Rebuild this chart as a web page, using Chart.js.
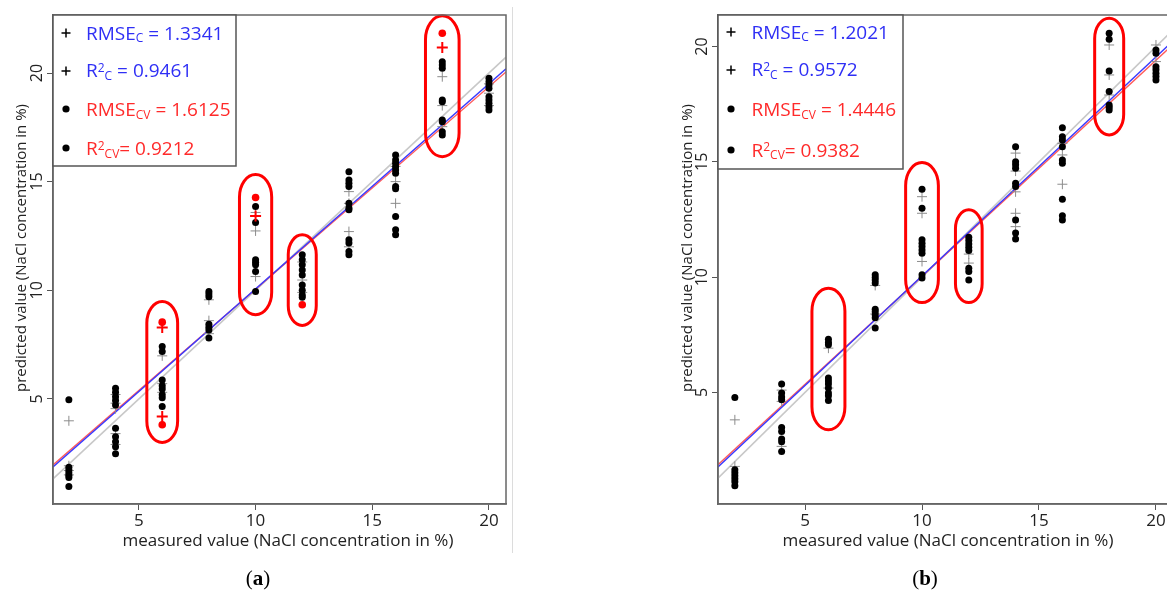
<!DOCTYPE html>
<html><head><meta charset="utf-8">
<script src="https://cdn.jsdelivr.net/npm/chart.js@4.4.1/dist/chart.umd.min.js"></script>
<style>
html,body{margin:0;padding:0;background:#fff;overflow:hidden;width:1167px;height:596px;}
#wa{position:absolute;left:0;top:0;width:520px;height:596px;}
#wb{position:absolute;left:640px;top:0;width:540px;height:596px;}
.sep{position:absolute;left:512px;top:7px;width:1px;height:546px;background:#dcdcdc;}
.cap{position:absolute;top:566px;font-family:"Liberation Serif","DejaVu Serif",serif;font-size:21px;color:#000;transform:translateX(-50%);white-space:nowrap;}
</style></head><body>
<div id="wa"><canvas id="ca" width="520" height="596"></canvas></div>
<div class="sep"></div>
<div id="wb"><canvas id="cb" width="540" height="596"></canvas></div>
<div class="cap" style="left:258px">(<b>a</b>)</div>
<div class="cap" style="left:925px">(<b>b</b>)</div>
<script>
// ---------- shared ----------
const groupsX = [2, 4, 6, 8, 10, 12, 14, 16, 18, 20];
const tickValues = [5, 10, 15, 20];
const xTitle = 'measured value (NaCl concentration in %)';
const yTitle = 'predicted value (NaCl concentration in %)';

// ---------- panel (a) ----------
const xRangeA = [1.32, 20.73];
const yRangeA = [0.16, 22.67];
const cvA = [
  [4.96, 1.85, 1.72, 1.6, 1.48, 1.38, 0.97],
  [5.49, 5.3, 5.1, 4.92, 4.72, 3.65, 3.25, 3.02, 2.8, 2.47],
  [7.41, 7.18, 5.87, 5.6, 5.45, 5.19, 5.05, 4.65],
  [9.94, 9.83, 9.7, 8.44, 8.3, 8.17, 7.8],
  [13.85, 13.12, 11.4, 11.29, 11.17, 10.86, 9.94],
  [11.63, 11.4, 11.17, 10.93, 10.7, 10.24, 10.0, 9.78, 9.68],
  [15.46, 15.08, 14.93, 14.77, 14.0, 13.78, 13.7, 12.32, 12.17, 11.78, 11.63],
  [16.23, 16.0, 15.85, 15.69, 15.54, 15.39, 14.77, 14.67, 13.39, 12.78, 12.55],
  [20.52, 20.37, 20.22, 18.76, 18.68, 17.84, 17.76, 17.3, 17.15],
  [19.76, 19.6, 19.45, 19.3, 18.91, 18.76, 18.61, 18.45, 18.3]
];
const calA = [
  [3.99, 1.92, 1.7, 1.5],
  [5.2, 4.8, 4.55, 3.4, 2.9],
  [6.98, 5.7, 5.3],
  [9.56, 8.6, 8.0],
  [13.58, 12.73, 10.63],
  [11.3, 10.47, 9.9],
  [14.54, 14.0, 12.7, 12.0],
  [15.7, 15.0, 14.0],
  [19.83, 18.5, 17.53],
  [19.5, 19.07, 18.5]
];
const outCvAx = [6, 6, 10, 12, 18];
const outCvAy = [8.53, 3.81, 14.27, 9.33, 21.83];
const outCalAx = [6, 6, 10, 18];
const outCalAy = [8.28, 4.19, 13.42, 21.17];
const lineXA = [1.32, 20.73];
const idLineYA = [1.32, 20.73];
const calLineYA = [1.87, 20.19];
const cvLineYA = [1.96, 20.05];
const ellXA = [6, 10, 12, 18];
const ellLoA = [2.99, 8.87, 8.38, 16.15];
const ellHiA = [9.48, 15.33, 12.55, 22.63];
const ellHwA = [0.66, 0.69, 0.6, 0.72];
const statsA = ['1.3341', '0.9461', '1.6125', '0.9212'];

// ---------- panel (b) ----------
const xRangeB = [1.28, 20.6];
const yRangeB = [0.16, 21.37];
const cvB = [
  [4.78, 1.65, 1.52, 1.39, 1.26, 1.13, 0.95],
  [5.36, 4.97, 4.8, 4.68, 3.48, 3.31, 2.98, 2.86, 2.44],
  [7.31, 7.17, 7.07, 5.62, 5.5, 5.37, 5.19, 4.97, 4.85, 4.65],
  [10.1, 9.98, 9.88, 9.75, 8.61, 8.5, 8.37, 8.24, 7.79],
  [13.81, 12.99, 11.62, 11.47, 11.33, 11.18, 11.04, 10.1, 9.96],
  [11.73, 11.59, 11.44, 11.3, 11.15, 10.39, 10.24, 9.88],
  [15.66, 15.01, 14.87, 14.72, 14.07, 13.93, 12.48, 11.91, 11.65],
  [16.48, 16.09, 15.95, 15.66, 15.08, 14.94, 13.38, 12.66, 12.48],
  [20.58, 20.32, 18.94, 18.05, 17.47, 17.37, 17.25],
  [19.85, 19.71, 19.13, 18.99, 18.84, 18.7, 18.55]
];
const calB = [
  [3.81, 1.79],
  [5.1, 4.61, 2.66],
  [6.92, 5.19],
  [9.64, 8.4],
  [13.49, 12.77, 10.68],
  [11.0, 10.61],
  [15.38, 14.6, 13.7, 12.77, 12.19],
  [15.8, 15.3, 14.03],
  [20.07, 18.77, 17.9],
  [20.07, 19.35]
];
const lineXB = [1.28, 20.6];
const idLineYB = [1.28, 20.6];
const calLineYB = [1.77, 20.12];
const cvLineYB = [1.86, 19.97];
const ellXB = [6, 10, 12, 18];
const ellLoB = [3.38, 8.9, 8.9, 16.17];
const ellHiB = [9.52, 14.97, 12.92, 21.23];
const ellHwB = [0.705, 0.70, 0.57, 0.62];
const statsB = ['1.2021', '0.9572', '1.4446', '0.9382'];

// ---------- helpers ----------
const FONT = '"Open Sans", "Noto Sans", sans-serif';
function groupPts(groups) {
  const pts = [];
  groups.forEach((ys, i) => ys.forEach(y => pts.push({ x: groupsX[i], y })));
  return pts;
}
function pairPts(xs, ys) { return xs.map((x, i) => ({ x, y: ys[i] })); }

function pill(ctx, cx, top, bot, rx) {
  const ry = (bot - top) / 2;
  let h = Math.min(rx * 1.4, ry);
  ctx.beginPath();
  ctx.ellipse(cx, top + h, rx, h, 0, Math.PI, 2 * Math.PI);
  ctx.lineTo(cx + rx, bot - h);
  ctx.ellipse(cx, bot - h, rx, h, 0, 0, Math.PI);
  ctx.lineTo(cx - rx, top + h);
  ctx.closePath();
  ctx.stroke();
}

const decor = {
  id: 'decor',
  afterDraw(chart, args, o) {
    const { ctx, chartArea: a, scales: { x, y } } = chart;
    ctx.save();
    // ellipses
    ctx.strokeStyle = '#ff0000'; ctx.lineWidth = 3;
    o.ellX.forEach((cx, i) => {
      const px = x.getPixelForValue(cx);
      const rx = x.getPixelForValue(cx + o.ellHw[i]) - px;
      pill(ctx, px, y.getPixelForValue(o.ellHi[i]), y.getPixelForValue(o.ellLo[i]), rx);
    });
    // frame
    ctx.strokeStyle = '#666'; ctx.lineWidth = 1.5;
    ctx.strokeRect(a.left, a.top, a.right - a.left, a.bottom - a.top);
    // legend
    const L = o.legend;
    ctx.fillStyle = '#fff';
    ctx.fillRect(L.box[0], L.box[1], L.box[2] - L.box[0], L.box[3] - L.box[1]);
    ctx.strokeStyle = '#555'; ctx.lineWidth = 1.5;
    ctx.strokeRect(L.box[0], L.box[1], L.box[2] - L.box[0], L.box[3] - L.box[1]);
    const rows = [
      { m: 'plus', c: '#2f2ff5', p: [['RMSE', 0], ['C', -1], [' = ' + L.stats[0], 0]] },
      { m: 'plus', c: '#2f2ff5', p: [['R', 0], ['2', 1], ['C', -1], [' = ' + L.stats[1], 0]] },
      { m: 'dot', c: '#ff2a2a', p: [['RMSE', 0], ['CV', -1], [' = ' + L.stats[2], 0]] },
      { m: 'dot', c: '#ff2a2a', p: [['R', 0], ['2', 1], ['CV', -1], ['= ' + L.stats[3], 0]] }
    ];
    rows.forEach((r, i) => {
      const my = L.markerY[i], mx = L.markerX;
      if (r.m === 'plus') {
        ctx.strokeStyle = '#000'; ctx.lineWidth = 1.5;
        ctx.beginPath(); ctx.moveTo(mx - 4.5, my); ctx.lineTo(mx + 4.5, my);
        ctx.moveTo(mx, my - 4.5); ctx.lineTo(mx, my + 4.5); ctx.stroke();
      } else {
        ctx.fillStyle = '#000'; ctx.beginPath(); ctx.arc(mx, my, 3.6, 0, 2 * Math.PI); ctx.fill();
      }
      let tx = L.textX;
      ctx.fillStyle = r.c; ctx.textAlign = 'left'; ctx.textBaseline = 'alphabetic';
      r.p.forEach(([t, k]) => {
        const size = k === 0 ? 19 : 12;
        ctx.font = size + 'px ' + FONT;
        const dy = k === -1 ? 2.8 : (k === 1 ? -5.5 : 0);
        ctx.fillText(t, tx, L.baseY[i] + dy);
        tx += ctx.measureText(t).width;
      });
    });
    // axis titles
    ctx.fillStyle = '#222'; ctx.textAlign = 'center'; ctx.textBaseline = 'middle';
    ctx.font = '17px ' + FONT;
    ctx.fillText(xTitle, o.xt[0], o.xt[1]);
    ctx.translate(o.yt[0], o.yt[1]); ctx.rotate(-Math.PI / 2);
    ctx.font = '15px ' + FONT;
    ctx.fillText(yTitle, 0, 0);
    ctx.restore();
  }
};

function makeChart(id, d) {
  const axisBase = {
    type: 'linear',
    grid: { drawOnChartArea: false, drawTicks: true, tickLength: 6, color: '#555', tickColor: '#555', lineWidth: 1 },
    border: { display: true, color: '#666', width: 1.5 },
    afterBuildTicks: s => { s.ticks = tickValues.map(v => ({ value: v })); }
  };
  return new Chart(document.getElementById(id), {
    type: 'scatter',
    data: {
      datasets: [
        { type: 'line', data: pairPts(d.lineX, d.idY), borderColor: '#c8c8c8', borderWidth: 1.6, pointRadius: 0, order: 9 },
        { type: 'line', data: pairPts(d.lineX, d.cvY), borderColor: '#ff5a5a', borderWidth: 1.4, pointRadius: 0, order: 8 },
        { type: 'line', data: pairPts(d.lineX, d.calY), borderColor: '#3a3aff', borderWidth: 1.4, pointRadius: 0, order: 7 },
        { data: groupPts(d.cal), pointStyle: 'cross', pointRadius: 5, borderColor: '#8c8c8c', borderWidth: 1, backgroundColor: '#8c8c8c', order: 6 },
        { data: groupPts(d.cv), pointStyle: 'circle', pointRadius: 3.5, borderWidth: 0, backgroundColor: '#000', order: 5 },
        { data: pairPts(d.outCalX, d.outCalY), pointStyle: 'cross', pointRadius: 5.5, borderColor: '#ff0000', borderWidth: 2, order: 3 },
        { data: pairPts(d.outCvX, d.outCvY), pointStyle: 'circle', pointRadius: 3.8, borderWidth: 0, backgroundColor: '#ff0000', order: 2 }
      ]
    },
    options: {
      responsive: false, animation: false, devicePixelRatio: 1,
      layout: { padding: { left: 0, top: 15, right: d.padRight, bottom: 0 } },
      plugins: { legend: { display: false }, tooltip: { enabled: false }, decor: d.decor },
      scales: {
        x: Object.assign({}, axisBase, {
          min: d.xr[0], max: d.xr[1],
          ticks: { color: '#222', font: { family: FONT, size: 17 }, padding: 1, maxRotation: 0 },
          afterFit: s => { s.height = 596 - 504; }
        }),
        y: Object.assign({}, axisBase, {
          min: d.yr[0], max: d.yr[1],
          ticks: { color: '#222', font: { family: FONT, size: 16 }, padding: 0, minRotation: 90, maxRotation: 90, crossAlign: 'center' },
          afterFit: s => { s.width = d.yAxisW; }
        })
      }
    },
    plugins: [decor]
  });
}

makeChart('ca', {
  xr: xRangeA, yr: yRangeA, cv: cvA, cal: calA,
  outCvX: outCvAx, outCvY: outCvAy, outCalX: outCalAx, outCalY: outCalAy,
  lineX: lineXA, idY: idLineYA, calY: calLineYA, cvY: cvLineYA,
  padRight: 520 - 506, yAxisW: 53,
  decor: {
    ellX: ellXA, ellLo: ellLoA, ellHi: ellHiA, ellHw: ellHwA,
    legend: { box: [53, 15, 236, 166], markerX: 66, markerY: [33, 71, 109, 148], textX: 86, baseY: [39.5, 77, 116, 155], stats: statsA },
    xt: [288, 541], yt: [22, 248]
  }
});
makeChart('cb', {
  xr: xRangeB, yr: yRangeB, cv: cvB, cal: calB,
  outCvX: [], outCvY: [], outCalX: [], outCalY: [],
  lineX: lineXB, idY: idLineYB, calY: calLineYB, cvY: cvLineYB,
  padRight: 540 - 530, yAxisW: 78,
  decor: {
    ellX: ellXB, ellLo: ellLoB, ellHi: ellHiB, ellHw: ellHwB,
    legend: { box: [78, 15, 263, 169], markerX: 91, markerY: [32, 70, 109, 150], textX: 111.5, baseY: [38.5, 76, 116, 156.5], stats: statsB },
    xt: [308, 541], yt: [48, 248]
  }
});
</script>
</body></html>
